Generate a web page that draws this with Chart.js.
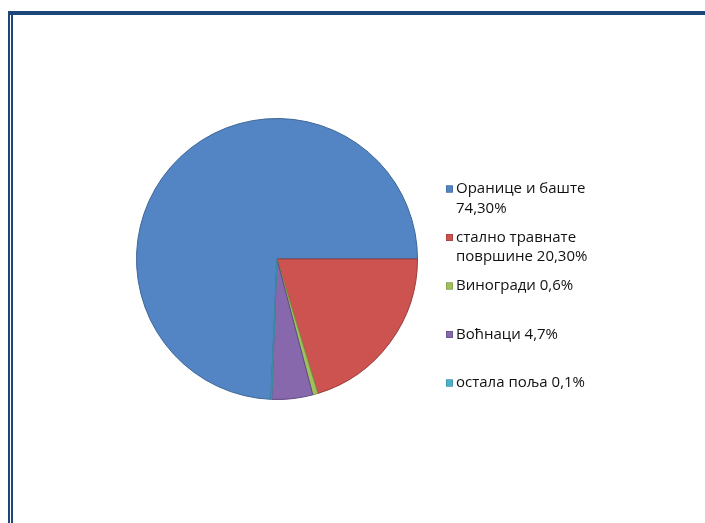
<!DOCTYPE html>
<html>
<head>
<meta charset="utf-8">
<script src="https://cdn.jsdelivr.net/npm/chart.js@4"></script>
<style>
  html, body { margin: 0; padding: 0; background: #ffffff; }
  #wrap { position: relative; width: 705px; height: 523px; }
</style>
</head>
<body>
<div id="wrap"><canvas id="c" width="705" height="523"></canvas></div>
<script>
const categories = ["Оранице и баште", "стално травнате површине", "Виногради", "Воћнаци", "остала поља"];
const values = [74.3, 20.3, 0.6, 4.7, 0.1];
const valueLabels = ["74,30%", "20,30%", "0,6%", "4,7%", "0,1%"];
const legendLines = [
  ["Оранице и баште", "74,30%"],
  ["стално травнате", "површине 20,30%"],
  ["Виногради 0,6%"],
  ["Воћнаци 4,7%"],
  ["остала поља 0,1%"]
];
const sliceColors = ["#5385c4", "#cc5350", "#a0c05e", "#8868ac", "#4eb1cb"];
const sliceBorders = ["#3d6696", "#9a3c3a", "#7a9444", "#614a82", "#3a8ba0"];

const framePlugin = {
  id: 'frame',
  beforeDraw(chart) {
    const ctx = chart.ctx;
    ctx.save();
    ctx.fillStyle = '#ffffff';
    ctx.fillRect(0, 0, chart.width, chart.height);
    ctx.fillStyle = '#1d4778';
    ctx.fillRect(8, 11, 705 - 8, 4);
    ctx.fillRect(8, 11, 2, 523 - 11);
    ctx.fillRect(11, 15, 2, 523 - 15);
    ctx.restore();
  }
};

const legendPlugin = {
  id: 'customLegend',
  afterDraw(chart) {
    const ctx = chart.ctx;
    const ds = chart.data.datasets[0];
    ctx.save();
    ctx.font = '15px "Open Sans", "Liberation Sans", sans-serif';
    ctx.textBaseline = 'middle';
    const x0 = 446, step = 48.5, top = 189, lh = 19.5;
    legendLines.forEach((lines, i) => {
      const y = top + i * step;
      ctx.fillStyle = ds.backgroundColor[i];
      ctx.fillRect(x0, y - 3.5, 7, 7);
      ctx.strokeStyle = ds.borderColor[i];
      ctx.lineWidth = 0.6;
      ctx.strokeRect(x0 + 0.3, y - 3.2, 6.4, 6.4);
      ctx.fillStyle = '#111111';
      lines.forEach((t, j) => ctx.fillText(t, x0 + 10, y + j * lh));
    });
    ctx.restore();
  }
};

new Chart(document.getElementById('c'), {
  type: 'pie',
  data: {
    labels: categories.map((c, i) => c + ' ' + valueLabels[i]),
    datasets: [{
      data: values,
      backgroundColor: sliceColors,
      borderColor: sliceBorders,
      borderWidth: 1
    }]
  },
  options: {
    responsive: false,
    animation: false,
    devicePixelRatio: 1,
    rotation: 90 - values[0] * 3.6,
    layout: { padding: { left: 136, right: 287, top: 118, bottom: 123 } },
    plugins: {
      legend: { display: false },
      tooltip: { enabled: false }
    }
  },
  plugins: [framePlugin, legendPlugin]
});
</script>
</body>
</html>
